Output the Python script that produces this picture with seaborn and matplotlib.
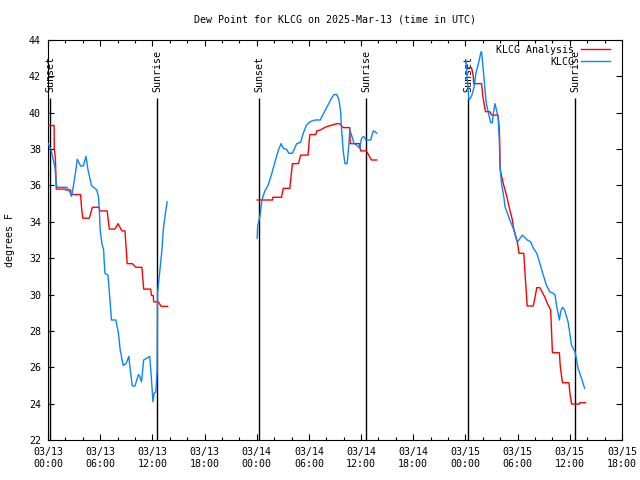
import numpy as np
import pandas as pd
import matplotlib
matplotlib.use("Agg")
import matplotlib.pyplot as plt
import matplotlib.dates as mdates
from matplotlib.lines import Line2D
import seaborn as sns

# hours after 2025-03-13 00:00 UTC, dew point in F
red_h = [0.0, 0.7, 0.72, 0.85, 0.95, 2.0, 2.05, 2.6, 2.65, 3.75, 3.85, 4.0, 4.75, 5.1, 5.9, 5.95, 6.8, 7.05,
         7.7, 8.05, 8.5, 8.85, 9.05, 9.1, 9.7, 10.1, 10.8, 11.0, 11.8, 11.9, 12.1, 12.15, 12.7, 13.0, 13.75]
red_v = [39.3, 39.3, 38.0, 37.5, 35.8, 35.8, 35.75, 35.75, 35.5, 35.5, 34.8, 34.2, 34.2, 34.8, 34.8, 34.6, 34.6, 33.6,
         33.6, 33.9, 33.5, 33.5, 32.1, 31.7, 31.7, 31.5, 31.5, 30.3, 30.3, 29.95, 29.95, 29.6, 29.6, 29.35, 29.35]
red_h2 = [24.05, 25.8, 25.85, 26.85, 27.05, 27.8, 28.1, 28.8, 29.05, 29.9, 30.1, 30.8, 30.9, 31.3, 32.0, 33.25,
          33.5, 33.95, 34.7, 34.75, 35.8, 35.95, 36.6, 37.2, 37.8]
red_v2 = [35.2, 35.2, 35.35, 35.35, 35.84, 35.84, 37.2, 37.2, 37.67, 37.67, 38.8, 38.8, 39.0, 39.05, 39.23, 39.4,
          39.4, 39.18, 39.18, 38.3, 38.3, 37.9, 37.9, 37.4, 37.4]
red_h3 = [48.05, 48.7, 48.9, 48.95, 49.85, 50.0, 50.3, 50.8, 51.0, 51.75, 51.9, 51.95, 52.0, 52.35, 52.75, 53.1,
          53.4, 53.5, 53.8, 54.0, 54.15, 54.7, 54.9, 55.1, 55.8, 56.0, 56.2, 56.55, 57.1, 57.5, 57.8, 58.0, 58.8,
          58.9, 59.15, 59.9, 60.0, 60.2, 61.1, 61.15, 61.8]
red_v3 = [42.48, 42.48, 42.0, 41.6, 41.6, 40.9, 40.06, 40.06, 39.87, 39.87, 39.05, 38.04, 36.85, 36.1, 35.4, 34.65,
          34.1, 33.73, 33.18, 32.8, 32.27, 32.27, 30.8, 29.37, 29.37, 29.85, 30.38, 30.38, 29.88, 29.42, 29.15, 26.8, 26.8,
          26.07, 25.15, 25.15, 24.6, 23.98, 23.98, 24.05, 24.05]

blue_h = [0.03, 0.35, 0.8, 0.98, 1.05, 2.15, 2.5, 2.7, 2.9, 3.2, 3.37, 3.75, 4.06, 4.37, 4.6, 5.0, 5.6, 5.8, 5.9,
          6.0, 6.2, 6.4, 6.45, 6.55, 6.9, 7.3, 7.8, 8.1, 8.3, 8.65, 8.97, 9.3, 9.4, 9.6, 9.7, 10.0, 10.4, 10.55,
          10.75, 11.0, 11.7, 11.9, 12.07, 12.2, 12.4, 12.55, 12.6, 12.9, 13.1, 13.25, 13.5, 13.7]
blue_v = [38.3, 37.95, 37.0, 36.0, 35.9, 35.9, 35.65, 35.4, 35.9, 36.85, 37.44, 37.07, 37.07, 37.6, 36.85, 36.0,
          35.75, 35.4, 34.65, 33.55, 32.8, 32.45, 31.9, 31.17, 31.07, 28.6, 28.6, 27.87, 26.95, 26.1, 26.2, 26.6,
          26.1, 25.3, 24.97, 24.97, 25.6, 25.5, 25.2, 26.4, 26.6, 25.3, 24.1, 24.57, 24.65, 25.8, 30.1, 31.5, 32.45,
          33.55, 34.47, 35.1]
blue_h2 = [24.05, 24.1, 24.4, 24.6, 24.9, 25.3, 25.7, 26.1, 26.5, 26.8, 27.05, 27.4, 27.7, 28.1, 28.6, 29.05,
           29.35, 29.7, 30.1, 30.7, 31.3, 31.7, 32.2, 32.6, 32.9, 33.2, 33.45, 33.65, 33.75, 33.95, 34.15, 34.4,
           34.6, 34.7, 34.9, 35.2, 35.55, 35.85, 36.05, 36.3, 36.55, 37.1, 37.4, 37.6, 37.8]
blue_v2 = [33.1, 33.73, 34.4, 35.2, 35.66, 36.0, 36.6, 37.3, 37.95, 38.3, 38.04, 38.0, 37.77, 37.77, 38.3, 38.37,
           38.87, 39.3, 39.5, 39.6, 39.6, 39.97, 40.43, 40.8, 41.0, 41.0, 40.7, 40.06, 39.14, 37.86, 37.2, 37.2,
           38.3, 39.05, 38.77, 38.3, 38.2, 38.04, 38.6, 38.7, 38.5, 38.5, 39.0, 38.96, 38.87]
blue_h3 = [48.05, 48.2, 48.4, 48.7, 49.0, 49.2, 49.5, 49.75, 49.85, 50.05, 50.25, 50.4, 50.7, 50.9, 51.1, 51.2,
           51.4, 51.6, 51.75, 51.9, 51.95, 52.15, 52.4, 52.55, 52.95, 53.1, 53.5, 53.9, 54.05, 54.55, 55.1, 55.5,
           55.8, 56.2, 56.55, 56.95, 57.3, 57.7, 58.1, 58.3, 58.5, 58.8, 58.95, 59.15, 59.4, 59.8, 60.2, 60.6,
           60.95, 61.35, 61.7]
blue_v3 = [42.9, 41.9, 40.7, 40.9, 41.43, 42.17, 42.72, 43.27, 43.36, 42.35, 41.25, 40.5, 39.87, 39.45, 39.45, 39.97,
           40.5, 40.06, 39.78, 38.5, 37.2, 36.1, 35.4, 34.83, 34.3, 34.1, 33.64, 32.96, 32.94, 33.27, 33.0, 32.9,
           32.55, 32.27, 31.72, 31.07, 30.52, 30.15, 30.07, 29.97, 29.33, 28.6, 29.06, 29.3, 29.15, 28.5, 27.2, 26.85,
           25.94, 25.39, 24.84]

sunset_h = [0.25, 24.28, 48.3]
sunrise_h = [12.58, 36.57, 60.6]

base = pd.Timestamp("2025-03-13 00:00")
red_c = "#ff0000"
blue_c = "#0a84ff"

rows = []
for seg, (hh, vv) in enumerate([(red_h, red_v), (red_h2, red_v2), (red_h3, red_v3)]):
    for h, v in zip(hh, vv):
        rows.append(("KLCG Analysis", seg, h, v))
for seg, (hh, vv) in enumerate([(blue_h, blue_v), (blue_h2, blue_v2), (blue_h3, blue_v3)]):
    for h, v in zip(hh, vv):
        rows.append(("KLCG", seg + 3, h, v))
df = pd.DataFrame(rows, columns=["series", "seg", "hour", "dewpt"])
df["time"] = base + pd.to_timedelta(df["hour"], unit="h")

plt.rcParams["font.family"] = ["DejaVu Sans Mono"]
fs = 7.2

fig = plt.figure(figsize=(6.4, 4.8), dpi=100)
ax = fig.add_axes([48 / 640, 40 / 480, 574 / 640, 400 / 480])

# sunset / sunrise markers
for h in sunset_h + sunrise_h:
    t = base + pd.Timedelta(hours=h)
    ax.vlines(t, 22, 40.8, color="black", lw=1.0, zorder=1)
for h in sunset_h:
    ax.text(base + pd.Timedelta(hours=h), 41.15, "Sunset", rotation=90, ha="center", va="bottom", fontsize=fs)
for h in sunrise_h:
    ax.text(base + pd.Timedelta(hours=h), 41.15, "Sunrise", rotation=90, ha="center", va="bottom", fontsize=fs)

sns.lineplot(data=df, x="time", y="dewpt", hue="series", units="seg", estimator=None,
             palette={"KLCG Analysis": red_c, "KLCG": blue_c}, lw=1.0, legend=False, ax=ax, zorder=3)

ax.set_xlim(base, base + pd.Timedelta(hours=66))
ax.set_ylim(22, 44)
ax.set_yticks(np.arange(22, 45, 2))
ax.xaxis.set_major_locator(mdates.HourLocator(byhour=[0, 6, 12, 18]))
ax.xaxis.set_minor_locator(mdates.HourLocator(byhour=range(0, 24, 2)))
ax.xaxis.set_major_formatter(mdates.DateFormatter("%m/%d\n%H:%M"))
ax.tick_params(which="both", direction="in", top=True, right=True, labelsize=fs, width=0.8)
ax.tick_params(which="major", length=4.5, pad=5)
ax.tick_params(which="minor", length=2.5)
for s in ax.spines.values():
    s.set_linewidth(0.8)
ax.set_xlabel("")
ax.set_ylabel("degrees F", fontsize=fs)
ax.yaxis.set_label_coords(-0.057, 0.5)

# title centred over the plot area
ax.text(0.5, 1 + 20 / 400, "Dew Point for KLCG on 2025-Mar-13 (time in UTC)", transform=ax.transAxes,
        ha="center", va="center", fontsize=fs)

handles = [Line2D([], [], color=red_c, lw=1.0), Line2D([], [], color=blue_c, lw=1.0)]
ax.legend(handles, ["KLCG Analysis", "KLCG"], loc="upper right", bbox_to_anchor=(0.979, 0.9875), frameon=False,
          markerfirst=False, fontsize=fs, handlelength=2.9, handletextpad=0.7, labelspacing=0.2,
          borderaxespad=0, borderpad=0)

fig.savefig("out.png", dpi=100)
